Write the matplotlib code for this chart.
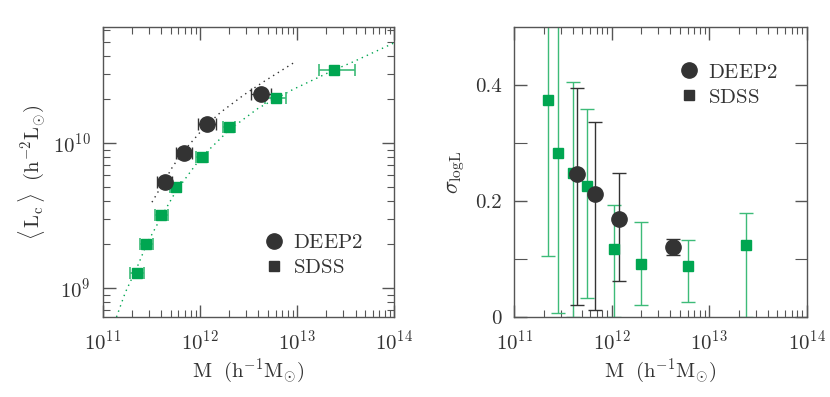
import numpy as np
import matplotlib
matplotlib.use("Agg")
import matplotlib.pyplot as plt
from matplotlib.lines import Line2D
from matplotlib.ticker import LogLocator, MultipleLocator, FixedLocator, NullFormatter

plt.rcParams['mathtext.fontset'] = 'cm'
plt.rcParams['font.family'] = 'serif'
plt.rcParams['font.serif'] = ['cmr10', 'DejaVu Serif']
plt.rcParams['axes.formatter.use_mathtext'] = True

GREEN = '#00a651'
GREEN_LIGHT = '#3dbb78'
DARK = '#333333'
AXC = '#555555'

# ---------------- data ----------------
# DEEP2
deep_M = [4.4e11, 6.8e11, 1.18e12, 4.25e12]
deep_L = [5.4e9, 8.5e9, 1.35e10, 2.17e10]
deep_dex_lo = [0.09, 0.08, 0.09, 0.10]
deep_dex_hi = [0.07, 0.08, 0.09, 0.10]
deep_sig = [0.247, 0.212, 0.169, 0.121]
deep_sig_lo = [0.020, 0.012, 0.062, 0.107]
deep_sig_hi = [0.394, 0.337, 0.249, 0.134]

# SDSS
sdss_M = [2.24e11, 2.8e11, 4.0e11, 5.6e11, 1.05e12, 2.0e12, 6.0e12, 2.4e13]
sdss_L = [1.27e9, 2.0e9, 3.2e9, 5.0e9, 8.0e9, 1.29e10, 2.04e10, 3.2e10]
sdss_dex_lo = [0.07, 0.065, 0.065, 0.06, 0.06, 0.06, 0.105, 0.16]
sdss_dex_hi = [0.07, 0.065, 0.065, 0.06, 0.06, 0.06, 0.105, 0.22]
sdss_sig = [0.374, 0.283, 0.248, 0.226, 0.118, 0.092, 0.088, 0.125]
sdss_sig_lo = [0.106, 0.007, 0.0, 0.033, 0.0, 0.021, 0.026, 0.0]
sdss_sig_hi = [0.60, 0.60, 0.405, 0.358, 0.193, 0.164, 0.133, 0.180]

# dotted fit curves
fit_deep_M = [3.2e11, 4.5e11, 5.25e11, 7.1e11, 1.12e12, 1.62e12, 2.82e12, 4.47e12, 9.1e12]
fit_deep_L = [3.9e9, 5.75e9, 6.9e9, 9.1e9, 1.29e10, 1.62e10, 2.14e10, 2.63e10, 3.55e10]
fit_sdss_M = [1.38e11, 1.7e11, 2.24e11, 2.82e11, 4.0e11, 5.6e11, 1.02e12, 2.0e12,
              4.0e12, 9.1e12, 2.34e13, 3.8e13, 1.0e14]
fit_sdss_L = [6.3e8, 9.3e8, 1.38e9, 2.0e9, 3.1e9, 4.6e9, 7.9e9, 1.23e10,
              1.74e10, 2.34e10, 3.16e10, 3.63e10, 4.9e10]

legend_labels = [r'$\mathrm{DEEP2}$', r'$\mathrm{SDSS}$']

fig = plt.figure(figsize=(8.3, 3.97), dpi=100)
ax1 = fig.add_axes([0.124, 0.2015, 0.351, 0.7305])
ax2 = fig.add_axes([0.6197, 0.2015, 0.3522, 0.7305])

TXT = '#333333'


def style(ax):
    for s in ax.spines.values():
        s.set_color(AXC)
        s.set_linewidth(1.0)
    ax.tick_params(which='both', direction='in', top=True, right=True, color=AXC,
                   labelsize=15, pad=9, labelcolor=TXT)
    ax.tick_params(which='major', length=9, width=1.0)
    ax.tick_params(which='minor', length=5, width=0.8)


def xerr(M, lo, hi):
    M = np.asarray(M); lo = np.asarray(lo); hi = np.asarray(hi)
    return [M - M * 10 ** (-lo), M * 10 ** hi - M]


# ---------- left panel ----------
ax1.set_xscale('log'); ax1.set_yscale('log')
ax1.plot(fit_deep_M, fit_deep_L, ls=(0, (1, 3)), color=DARK, lw=1.0)
ax1.plot(fit_sdss_M, fit_sdss_L, ls=(0, (1, 3)), color=GREEN, lw=1.0)
ax1.errorbar(sdss_M, sdss_L, xerr=xerr(sdss_M, sdss_dex_lo, sdss_dex_hi), fmt='s',
             color=GREEN, ms=7.5, ecolor=GREEN_LIGHT, elinewidth=1.2, capsize=4, capthick=1.2)
ax1.errorbar(deep_M, deep_L, xerr=xerr(deep_M, deep_dex_lo, deep_dex_hi), fmt='o',
             color=DARK, ms=11, ecolor=DARK, elinewidth=1.0, capsize=4, capthick=1.0)
ax1.set_xlim(1e11, 1e14)
ax1.set_ylim(6.3e8, 6.3e10)
ax1.xaxis.set_major_locator(LogLocator(base=10, numticks=10))
ax1.xaxis.set_minor_locator(LogLocator(base=10, subs=np.arange(2, 10), numticks=10))
ax1.xaxis.set_minor_formatter(NullFormatter())
ax1.yaxis.set_minor_formatter(NullFormatter())
style(ax1)
ax1.set_xlabel(r'$\mathrm{M\ \ (h^{-1}M_{\odot})}$', fontsize=15, color=TXT, labelpad=2)
ax1.set_ylabel(r'$\langle\,\mathrm{L_c}\,\rangle\ \ \mathrm{(h^{-2}L_{\odot})}$', fontsize=15,
               color=TXT, labelpad=4)

handles = [Line2D([], [], marker='o', ls='none', color=DARK, ms=11),
           Line2D([], [], marker='s', ls='none', color=DARK, ms=7)]
leg1 = ax1.legend(handles, legend_labels, loc='lower right', bbox_to_anchor=(0.955, 0.074),
                  frameon=False, fontsize=15, handletextpad=0.3, labelspacing=0.3,
                  handlelength=1.2)
for t in leg1.get_texts():
    t.set_color(TXT)

# ---------- right panel ----------
ax2.set_xscale('log')
yerr_s = [np.asarray(sdss_sig) - np.asarray(sdss_sig_lo), np.asarray(sdss_sig_hi) - np.asarray(sdss_sig)]
yerr_d = [np.asarray(deep_sig) - np.asarray(deep_sig_lo), np.asarray(deep_sig_hi) - np.asarray(deep_sig)]
ax2.errorbar(sdss_M, sdss_sig, yerr=yerr_s, fmt='s', color=GREEN, ms=7.5,
             ecolor=GREEN_LIGHT, elinewidth=1.0, capsize=5, capthick=1.0)
ax2.errorbar(deep_M, deep_sig, yerr=yerr_d, fmt='o', color=DARK, ms=11,
             ecolor=DARK, elinewidth=1.0, capsize=5, capthick=1.0)
ax2.set_xlim(1e11, 1e14)
ax2.set_ylim(0, 0.5)
ax2.xaxis.set_major_locator(LogLocator(base=10, numticks=10))
ax2.xaxis.set_minor_locator(LogLocator(base=10, subs=np.arange(2, 10), numticks=10))
ax2.xaxis.set_minor_formatter(NullFormatter())
ax2.yaxis.set_major_locator(FixedLocator([0, 0.2, 0.4]))
ax2.yaxis.set_minor_locator(FixedLocator([0.1, 0.3]))
ax2.set_yticklabels(['0', '0.2', '0.4'])
style(ax2)
ax2.tick_params(which='minor', axis='y', length=9)
ax2.set_xlabel(r'$\mathrm{M\ \ (h^{-1}M_{\odot})}$', fontsize=15, color=TXT, labelpad=2)
ax2.set_ylabel(r'$\sigma_{\mathrm{logL}}$', fontsize=16, color=TXT, labelpad=6)
leg2 = ax2.legend(handles, legend_labels, loc='upper right', bbox_to_anchor=(0.965, 0.94),
                  frameon=False, fontsize=15, handletextpad=0.3, labelspacing=0.3,
                  handlelength=1.2)
for t in leg2.get_texts():
    t.set_color(TXT)

fig.savefig('out.png', dpi=100)
